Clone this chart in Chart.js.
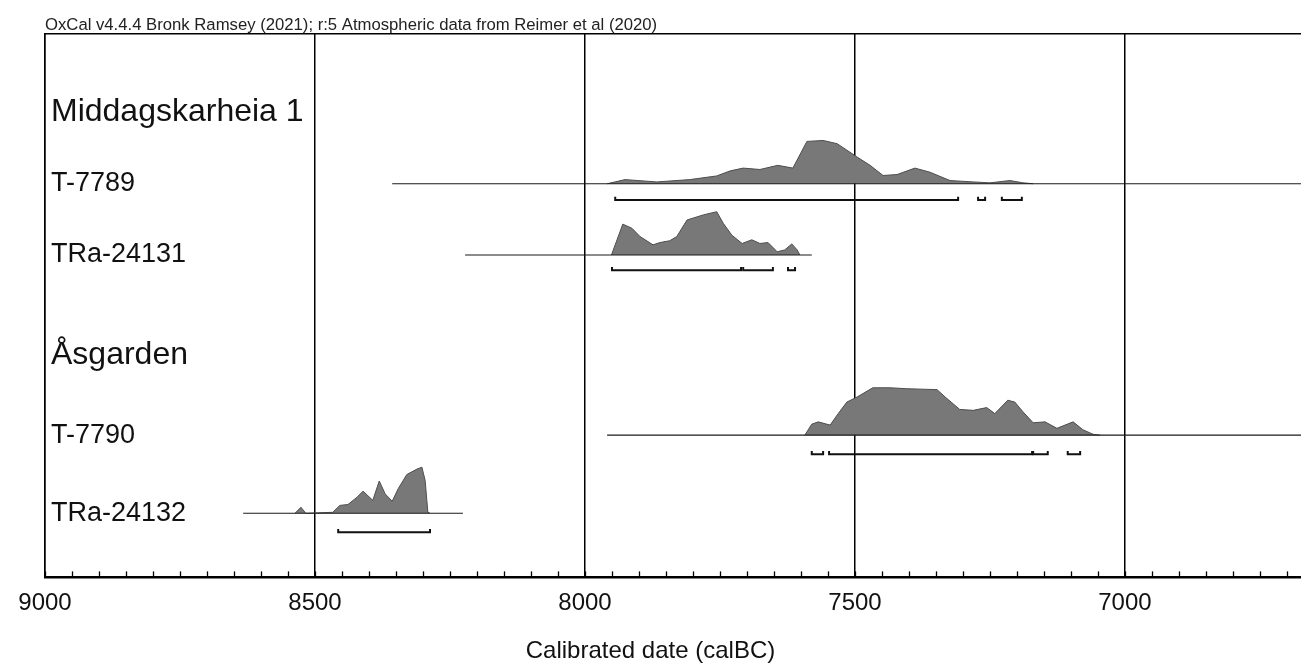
<!DOCTYPE html>
<html>
<head>
<meta charset="utf-8">
<script src="https://cdn.jsdelivr.net/npm/chart.js@4.4.1/dist/chart.umd.min.js"></script>
<style>
  body { margin: 0; background: #fff; }
  canvas { display: block; }
</style>
</head>
<body>
<canvas id="chart-oxcal" width="1301" height="670"></canvas>
<script>
// ============================================
// OxCal multiplot — Middagskarheia 1 / Åsgarden
// ============================================

const header     = "OxCal v4.4.4 Bronk Ramsey (2021); r:5 Atmospheric data from Reimer et al (2020)"
const axisTitle  = "Calibrated date (calBC)"
const majorTicks = [9000, 8500, 8000, 7500, 7000]

const groups  = ["Middagskarheia 1", "Åsgarden"]
const samples = ["T-7789", "TRa-24131", "T-7790", "TRa-24132"]

// calibrated years (calBC) and relative probability
const years7789 = [7959, 7926, 7867, 7806, 7756, 7731, 7707, 7676, 7643, 7615, 7589, 7559, 7533, 7496, 7472, 7448, 7422, 7389, 7361, 7324, 7281, 7250, 7213, 7189, 7170]
const prob7789  = [0, .09, .04, .09, .17, .28, .34, .31, .40, .34, .92, .94, .87, .58, .40, .18, .20, .34, .25, .07, .04, .02, .07, .02, 0]

const years24131 = [7951, 7930, 7913, 7898, 7874, 7861, 7843, 7830, 7811, 7781, 7756, 7744, 7728, 7709, 7691, 7676, 7661, 7644, 7630, 7617, 7607, 7602]
const prob24131  = [0, .67, .58, .40, .22, .27, .31, .40, .76, .87, .94, .69, .43, .25, .33, .25, .27, .07, .11, .24, .11, 0]

const years7790 = [7593, 7580, 7568, 7546, 7531, 7515, 7496, 7467, 7435, 7404, 7348, 7333, 7306, 7281, 7256, 7241, 7217, 7204, 7189, 7170, 7148, 7126, 7096, 7078, 7059, 7046]
const prob7790  = [0, .24, .29, .22, .47, .72, .83, 1.03, 1.03, 1.01, .99, .83, .56, .54, .60, .47, .76, .72, .51, .27, .29, .15, .29, .12, .02, 0]

const years24132 = [8537, 8526, 8517, 8467, 8454, 8439, 8422, 8411, 8402, 8393, 8381, 8370, 8357, 8346, 8330, 8311, 8302, 8296, 8291, 8287]
const prob24132  = [0, .13, 0, .02, .17, .19, .35, .48, .38, .28, .70, .42, .26, .53, .84, .96, 1.0, .71, .02, 0]

// extent of the thin baseline of each likelihood
const span7789  = [8357, 6600]
const span24131 = [8222, 7580]
const span7790  = [7959, 6600]
const span24132 = [8633, 8226]

// 95.4% ranges
const ranges7789  = [[7944, 7309], [7272, 7259], [7228, 7191]]
const ranges24131 = [[7950, 7711], [7707, 7652], [7624, 7611]]
const ranges7790  = [[7580, 7559], [7548, 7172], [7170, 7143], [7106, 7083]]
const ranges24132 = [[8457, 8287]]

// ---- layout (y axis runs 0..100 over the plot height) ----
const baseRows  = [72.4, 59.3, 26.15, 11.8]
const rangeRows = [69.4, 56.5, 22.65, 8.3]
const groupRows = [85.6, 40.9]
const PEAK = 8.47
const TICK = 0.6
const X_MIN = 6674, X_MAX = 9000
const FONT = "'Liberation Sans', Arial, sans-serif"

const yearsAll  = [years7789, years24131, years7790, years24132]
const probAll   = [prob7789, prob24131, prob7790, prob24132]
const spansAll  = [span7789, span24131, span7790, span24132]
const rangesAll = [ranges7789, ranges24131, ranges7790, ranges24132]

function datasetsFor(i) {
  const base = baseRows[i], r = rangeRows[i]
  const out = []
  out.push({
    data: spansAll[i].map(x => ({ x, y: base })),
    borderColor: "#1a1a1a", borderWidth: 1.2, fill: false
  })
  out.push({
    data: yearsAll[i].map((x, k) => ({ x, y: base + probAll[i][k] * PEAK })),
    fill: { value: base }, backgroundColor: "#787878", borderColor: "#4d4d4d", borderWidth: 1
  })
  rangesAll[i].forEach(([a, b]) => out.push({
    data: [{ x: a, y: r + TICK }, { x: a, y: r }, { x: b, y: r }, { x: b, y: r + TICK }],
    borderColor: "#111", borderWidth: 2, fill: false
  }))
  return out
}

const labelRows  = [...groupRows, ...baseRows]
const labelNames = [...groups, ...samples]

const frameAndMinorTicks = {
  id: "frameAndMinorTicks",
  afterDraw(chart) {
    const { ctx, chartArea, scales: { x } } = chart
    ctx.save()
    ctx.strokeStyle = "#000"
    ctx.lineWidth = 1.3
    x.ticks.forEach(t => {
      const px = Math.round(x.getPixelForValue(t.value)) + 0.5
      ctx.beginPath()
      ctx.moveTo(px, chartArea.bottom)
      ctx.lineTo(px, chartArea.bottom - 6)
      ctx.stroke()
    })
    ctx.lineWidth = 1.5
    ctx.beginPath()
    ctx.moveTo(chartArea.left, chartArea.top)
    ctx.lineTo(chartArea.right, chartArea.top)
    ctx.stroke()
    ctx.restore()
  }
}

const datasets = samples.flatMap((s, i) => datasetsFor(i))

new Chart(document.getElementById("chart-oxcal"), {
  type: "line",
  data: { datasets },
  plugins: [frameAndMinorTicks],
  options: {
    responsive: false,
    animation: false,
    events: [],
    layout: { padding: { left: 0, top: 17, right: 0, bottom: 0 } },
    elements: { point: { radius: 0 }, line: { tension: 0 } },
    plugins: {
      legend: { display: false },
      tooltip: { enabled: false },
      title: {
        display: true, text: header, align: "start", color: "#222", fullSize: false,
        font: { family: FONT, size: 16.7, weight: "normal", lineHeight: 1 },
        padding: { top: 0, bottom: 0 }
      },
      subtitle: {
        display: true, text: axisTitle, position: "bottom", color: "#111",
        font: { family: FONT, size: 24, weight: "normal" },
        padding: { top: 7.2, bottom: 4.6 }
      }
    },
    scales: {
      x: {
        type: "linear", reverse: true, min: X_MIN, max: X_MAX, z: 1,
        ticks: {
          stepSize: 50, includeBounds: false, autoSkip: false, maxRotation: 0, padding: 11.6,
          color: "#111", font: { family: FONT, size: 24 },
          callback: v => majorTicks.includes(v) ? String(v) : ""
        },
        grid: {
          drawTicks: false, lineWidth: 1.5,
          color: c => c.tick && majorTicks.includes(c.tick.value) ? "#000" : "rgba(0,0,0,0)"
        },
        border: { display: true, color: "#000", width: 2.5 }
      },
      y: {
        min: 0, max: 100,
        afterBuildTicks: scale => { scale.ticks = labelRows.map(v => ({ value: v })) },
        afterFit: scale => { scale.width = 45; scale.paddingTop = 0; scale.paddingBottom = 0 },
        ticks: {
          mirror: true, padding: 6, color: "#111",
          font: c => ({ family: FONT, size: c.tick && groupRows.includes(c.tick.value) ? 32 : 27 }),
          callback: v => labelNames[labelRows.indexOf(v)]
        },
        grid: { display: false, drawTicks: false },
        border: { display: true, color: "#000", width: 1.5 }
      }
    }
  }
})
</script>
</body>
</html>
